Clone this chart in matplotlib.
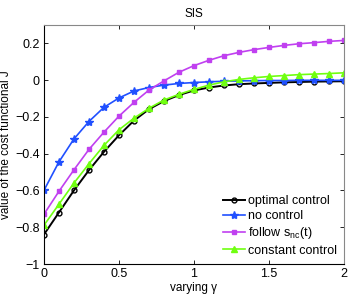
import matplotlib
matplotlib.use("Agg")
import matplotlib.pyplot as plt
import numpy as np

gamma = [0.0, 0.1, 0.2, 0.3, 0.4, 0.5, 0.6, 0.7, 0.8, 0.9, 1.0,
         1.1, 1.2, 1.3, 1.4, 1.5, 1.6, 1.7, 1.8, 1.9, 2.0]
optimal = [-0.84, -0.72, -0.60, -0.49, -0.39, -0.30, -0.22, -0.158, -0.114, -0.081, -0.056,
           -0.040, -0.029, -0.022, -0.018, -0.015, -0.012, -0.010, -0.008, -0.007, -0.006]
no_control = [-0.60, -0.445, -0.32, -0.225, -0.148, -0.097, -0.059, -0.040, -0.027, -0.018, -0.013,
              -0.009, -0.006, -0.004, -0.003, -0.002, -0.002, -0.001, -0.001, -0.001, -0.001]
follow = [-0.73, -0.605, -0.488, -0.377, -0.283, -0.196, -0.121, -0.054, -0.004, 0.043, 0.079,
          0.108, 0.133, 0.151, 0.166, 0.178, 0.189, 0.198, 0.204, 0.211, 0.216]
constant = [-0.79, -0.675, -0.56, -0.455, -0.355, -0.27, -0.207, -0.153, -0.108, -0.077, -0.050,
            -0.027, -0.009, 0.004, 0.013, 0.020, 0.025, 0.030, 0.033, 0.036, 0.040]

labels = ["optimal control", "no control", r"follow s$_{\rm nc}$(t)", "constant control"]
colors = ["black", "#2050ff", "#c040f0", "#70ff10"]
markers = ["o", "*", "s", "^"]

plt.rcParams['font.family'] = ['Liberation Sans', 'DejaVu Sans']
plt.rcParams['mathtext.fontset'] = 'custom'
plt.rcParams['mathtext.rm'] = 'Liberation Sans'

fig = plt.figure(figsize=(3.54, 2.94), dpi=100)
ax = fig.add_axes([0.124, 0.102, 0.848, 0.813])

series = [optimal, no_control, follow, constant]
msizes = [3.5, 6, 3.5, 4.5]
for y, c, m, lab, ms in zip(series, colors, markers, labels, msizes):
    if m == "o":
        ax.plot(gamma, y, color=c, marker=m, ms=ms, lw=1.4, mfc='none', mew=1.0, label=lab)
    else:
        ax.plot(gamma, y, color=c, marker=m, ms=ms, lw=1.2, label=lab)

ax.set_xlim(0, 2)
ax.set_ylim(-1, 0.3)
ax.set_xticks([0, 0.5, 1, 1.5, 2])
ax.set_xticklabels(["0", "0.5", "1", "1.5", "2"])
ax.set_yticks([-1, -0.8, -0.6, -0.4, -0.2, 0, 0.2])
ax.set_yticklabels(["\u22121", "\u22120.8", "\u22120.6", "\u22120.4", "\u22120.2", "0", "0.2"])
ax.tick_params(direction='in', length=3, labelsize=9, top=True, right=True, pad=3, width=0.6)
for s in ['top', 'right']:
    ax.spines[s].set_color('#888888')
for s in ['left', 'bottom']:
    ax.spines[s].set_color('black')
for s in ax.spines.values():
    s.set_linewidth(0.8)

ax.set_title("SIS", fontsize=8.5, pad=6)
ax.set_xlabel("varying \u03b3", fontsize=8.5, labelpad=1)
ax.set_ylabel("value of the cost functional J", fontsize=8.5, labelpad=2)

leg = ax.legend(loc='lower right', fontsize=9, frameon=False, handlelength=1.8,
                handletextpad=0.2, labelspacing=0.25, borderaxespad=0.2)

fig.savefig("out.png", dpi=100)
